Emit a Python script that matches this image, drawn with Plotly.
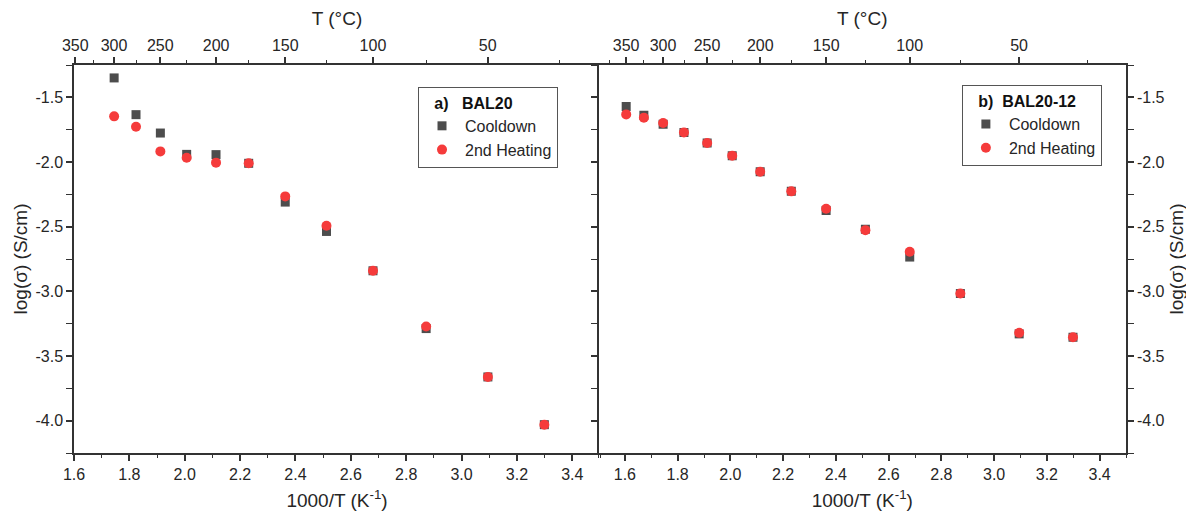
import plotly.graph_objects as go

# ---------------- data ----------------
x_a = [1.745, 1.824, 1.912, 2.007, 2.113, 2.231, 2.363, 2.512, 2.680, 2.872, 3.095, 3.299]
cool_a = [-1.350, -1.634, -1.776, -1.941, -1.943, -2.010, -2.310, -2.537, -2.841, -3.288, -3.662, -4.031]
heat_a = [-1.647, -1.727, -1.918, -1.967, -2.005, -2.010, -2.266, -2.493, -2.841, -3.272, -3.662, -4.031]

x_b = [1.605, 1.672, 1.745, 1.824, 1.912, 2.007, 2.113, 2.231, 2.363, 2.512, 2.680, 2.872, 3.095, 3.299]
cool_b = [-1.570, -1.639, -1.709, -1.771, -1.853, -1.951, -2.075, -2.227, -2.375, -2.520, -2.735, -3.017, -3.329, -3.355]
heat_b = [-1.632, -1.657, -1.698, -1.771, -1.853, -1.951, -2.075, -2.227, -2.362, -2.527, -2.694, -3.017, -3.321, -3.355]

series_names = ["Cooldown", "2nd Heating"]
legend_titles = ["&nbsp;&nbsp;&nbsp;a)&nbsp;&nbsp; BAL20", "&nbsp;&nbsp;&nbsp;b)&nbsp; BAL20-12"]

y_tick_vals = [-4.0, -3.5, -3.0, -2.5, -2.0, -1.5]
y_tick_text = ["-4.0", "-3.5", "-3.0", "-2.5", "-2.0", "-1.5"]

t_major = [350, 300, 250, 200, 150, 100, 50]
t_minor = [375, 325, 275, 225, 175, 125, 75, 25]

# ---------------- style ----------------
FONT = "Liberation Sans, Arial, sans-serif"
TXT = "#262626"
LINE = "#333333"
COOL = "#4d4d4d"
HEAT = "#f53b3b"
LW = 1.5
PAGE_OFFSET = 8  # default body margin of the html page
FIG_W = 1194 - PAGE_OFFSET
FIG_H = 513 - PAGE_OFFSET
M_L, M_R, M_T, M_B = 74 - PAGE_OFFSET, 68, 65 - PAGE_OFFSET, 60
PLOT_W = FIG_W - M_L - M_R


def inv_t(tc):
    return 1000.0 / (tc + 273.15)


top_vals = [inv_t(t) for t in t_major]
top_text = [str(t) for t in t_major]
top_minor = [inv_t(t) for t in t_minor]

fig = go.Figure()

for xs, cool, heat, xa, lg in [(x_a, cool_a, heat_a, "x", "legend"),
                               (x_b, cool_b, heat_b, "x2", "legend2")]:
    ya = "y" if xa == "x" else "y2"
    fig.add_trace(go.Scatter(x=xs, y=cool, mode="markers", name=series_names[0],
                             marker=dict(symbol="square", size=9, color=COOL),
                             xaxis=xa, yaxis=ya, legend=lg))
    fig.add_trace(go.Scatter(x=xs, y=heat, mode="markers", name=series_names[1],
                             marker=dict(symbol="circle", size=10, color=HEAT),
                             xaxis=xa, yaxis=ya, legend=lg))

# empty traces so the top temperature axes get drawn
fig.add_trace(go.Scatter(x=[], y=[], xaxis="x3", yaxis="y", showlegend=False, hoverinfo="skip"))
fig.add_trace(go.Scatter(x=[], y=[], xaxis="x4", yaxis="y2", showlegend=False, hoverinfo="skip"))

tickfont = dict(family=FONT, size=16, color=TXT)
titlefont = dict(family=FONT, size=19, color=TXT)

common_x = dict(showline=True, linecolor=LINE, linewidth=LW, showgrid=False, zeroline=False,
                automargin=False,
                ticks="outside", ticklen=6, tickwidth=1.5, tickcolor=LINE,
                tickfont=tickfont, tickformat=".1f", dtick=0.2, tick0=1.6,
                minor=dict(dtick=0.1, tick0=1.6, ticks="outside", ticklen=3, tickwidth=1.2, tickcolor=LINE),
                title=dict(text="1000/T (K<sup>-1</sup>)", font=titlefont, standoff=12))

common_top = dict(showline=True, linecolor=LINE, linewidth=LW, showgrid=False, zeroline=False,
                  automargin=False,
                  side="top", tickmode="array", tickvals=top_vals, ticktext=top_text,
                  ticks="outside", ticklen=6, tickwidth=1.5, tickcolor=LINE, tickfont=tickfont,
                  minor=dict(tickmode="array", tickvals=top_minor, ticks="outside", ticklen=3,
                             tickwidth=1.2, tickcolor=LINE),
                  title=dict(text="T (°C)", font=titlefont, standoff=6))

common_y = dict(showline=True, linecolor=LINE, linewidth=LW, showgrid=False, zeroline=False,
                automargin=False,
                range=[-4.25, -1.25], mirror="allticks",
                tickmode="array", tickvals=y_tick_vals, ticktext=y_tick_text,
                ticks="outside", ticklen=6, tickwidth=1.5, tickcolor=LINE, tickfont=tickfont,
                minor=dict(tickmode="linear", tick0=-4.0, dtick=0.25, ticks="outside", ticklen=3,
                           tickwidth=1.2, tickcolor=LINE))

legend_common = dict(xanchor="left", yanchor="top", bgcolor="white", bordercolor="#555555",
                     borderwidth=1, font=dict(family=FONT, size=16, color=TXT),
                     tracegroupgap=0, itemwidth=36)

split = 0.5 - LW / PLOT_W

fig.update_layout(
    width=FIG_W, height=FIG_H,
    margin=dict(l=M_L, r=M_R, t=M_T, b=M_B, autoexpand=False),
    paper_bgcolor="white", plot_bgcolor="white",
    font=dict(family=FONT, color=TXT),
    xaxis=dict(domain=[0, 0.5], range=[1.6, 3.5], anchor="y", **common_x),
    xaxis2=dict(domain=[split, 1.0], range=[1.5, 3.5], anchor="y2", **common_x),
    xaxis3=dict(range=[1.6, 3.5], anchor="y", overlaying="x", **common_top),
    xaxis4=dict(range=[1.5, 3.5], anchor="y2", overlaying="x2", **common_top),
    yaxis=dict(domain=[0, 1], anchor="x", side="left",
               title=dict(text="log(σ) (S/cm)", font=titlefont, standoff=3), **common_y),
    yaxis2=dict(domain=[0, 1], anchor="x2", side="right",
                title=dict(text="log(σ) (S/cm)", font=titlefont, standoff=6), **common_y),
    legend=dict(x=0.327, y=0.943,
                title=dict(text="<b>" + legend_titles[0] + "</b>",
                           font=dict(family=FONT, size=16, color="#111111")),
                **legend_common),
    legend2=dict(x=0.844, y=0.948,
                 title=dict(text="<b>" + legend_titles[1] + "</b>",
                            font=dict(family=FONT, size=16, color="#111111")),
                 **legend_common),
    showlegend=True,
)

fig.write_html("out.html")
